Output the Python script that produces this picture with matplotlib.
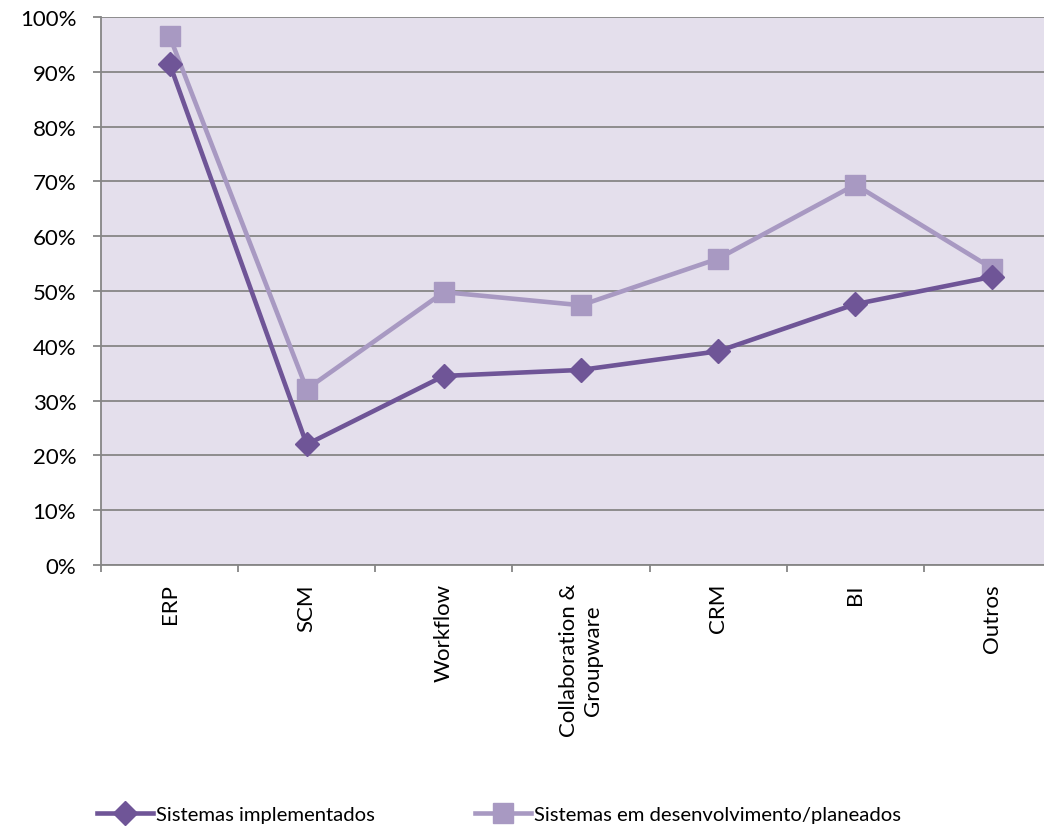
import matplotlib
matplotlib.use("Agg")
import matplotlib.pyplot as plt
from matplotlib.ticker import FuncFormatter, MultipleLocator

categories = ["ERP", "SCM", "Workflow", "Collaboration &\nGroupware", "CRM", "BI", "Outros"]
implementados = [91.5, 22.0, 34.5, 35.6, 39.0, 47.6, 52.6]
planeados = [96.5, 32.1, 49.8, 47.4, 55.9, 69.4, 54.1]
series_names = ["Sistemas implementados", "Sistemas em desenvolvimento/planeados"]

plt.rcParams["font.family"] = ["Lato", "DejaVu Sans"]
TICK_FS = 16
LEG_FS = 14.6

W, H = 1044, 829
fig = plt.figure(figsize=(W / 100, H / 100), dpi=100)
left, right, top, bottom = 101, 1061, 18, 566
ax = fig.add_axes([left / W, 1 - bottom / H, (right - left) / W, (bottom - top) / H])

ax.set_facecolor("#E4DFEC")
grid_c = "#868686"
x = list(range(len(categories)))

ax.plot(x, planeados, color="#A899C2", lw=3.3, marker="s", ms=14.5,
        label=series_names[1], zorder=3, solid_joinstyle="round")
ax.plot(x, implementados, color="#6F5597", lw=3.3, marker="D", ms=12,
        label=series_names[0], zorder=4, solid_joinstyle="round")

ax.set_xlim(-0.5, len(categories) - 0.5)
ax.set_ylim(0, 100)
ax.yaxis.set_major_locator(MultipleLocator(10))
ax.yaxis.set_major_formatter(FuncFormatter(lambda v, p: f"{v:.0f}%"))
ax.yaxis.grid(True, color=grid_c, lw=1.3)
ax.set_axisbelow(True)

ax.set_xticks([i - 0.5 for i in range(len(categories) + 1)])
ax.set_xticklabels([])
ax.set_xticks(x, minor=True)
ax.set_xticklabels(categories, minor=True, rotation=90, ha="center", va="top",
                   fontsize=TICK_FS, color="black", multialignment="center")
ax.tick_params(axis="x", which="minor", length=0, pad=13)
ax.tick_params(axis="x", which="major", length=5, width=1.3, color=grid_c)
ax.tick_params(axis="y", length=5.8, width=1.3, color=grid_c, labelsize=TICK_FS, pad=12)

for s in ["top", "right"]:
    ax.spines[s].set_visible(False)
for s in ["left", "bottom"]:
    ax.spines[s].set_color(grid_c)
    ax.spines[s].set_linewidth(1.3)

handles, labels = ax.get_legend_handles_labels()
leg = fig.legend(handles[::-1], labels[::-1], loc="center", ncol=2,
                 bbox_to_anchor=(499 / W, 1 - 815 / H), frameon=False, fontsize=LEG_FS,
                 handlelength=2.8, handletextpad=0.15, columnspacing=4.9)

fig.savefig("out.png", dpi=100)
